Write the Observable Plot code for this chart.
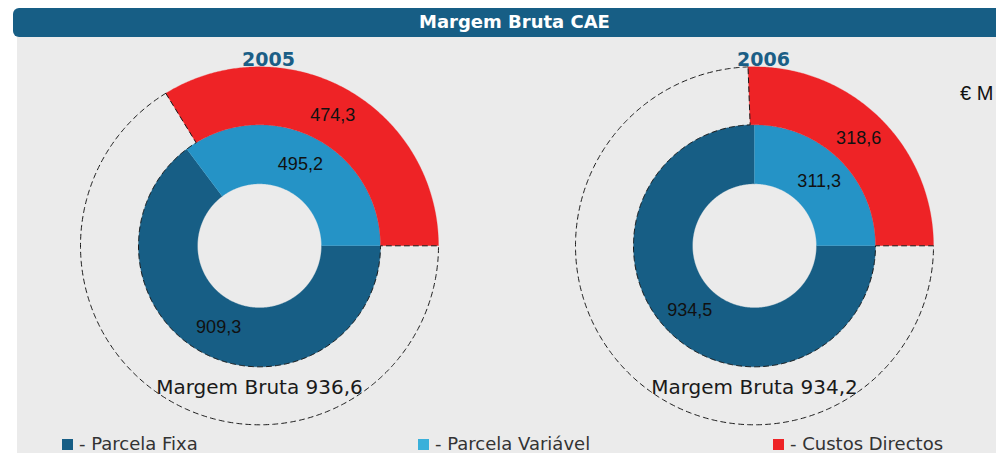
<!DOCTYPE html>
<html>
<head>
<meta charset="utf-8">
<script src="https://cdn.jsdelivr.net/npm/d3@7"></script>
<script src="https://cdn.jsdelivr.net/npm/@observablehq/plot@0.6"></script>
<style>
  html, body { margin: 0; padding: 0; background: #ffffff; }
  body { width: 996px; height: 453px; position: relative; overflow: hidden; font-family: "DejaVu Sans", sans-serif; }
  #banner { position: absolute; left: 13px; top: 8px; width: 990px; height: 29px; background: #175e85; border-radius: 6px 0 0 6px; }
  #banner span { position: absolute; left: 406px; top: 3px; color: #fff; font-weight: bold; font-size: 18px; }
  #panel { position: absolute; left: 17px; top: 37px; width: 979px; height: 416px; background: #ebebeb; }
  #chart { position: absolute; left: 0; top: 37px; }
  #unit { position: absolute; left: 960px; top: 82px; font-family: "Liberation Sans", Arial, sans-serif; font-size: 20px; color: #111; }
  .leg { position: absolute; top: 433px; font-size: 18px; color: #333; white-space: nowrap; }
  .leg i { display: inline-block; width: 11px; height: 11px; margin-right: 6px; vertical-align: 0px; }
</style>
</head>
<body>
<div id="banner"><span>Margem Bruta CAE</span></div>
<div id="panel"></div>
<div id="chart"></div>
<div id="unit">€ M</div>
<div id="legend"></div>
<script>
// ---- data ----
const years = ["2005", "2006"];
const parcelaFixa = [909.3, 934.5];
const parcelaVariavel = [495.2, 311.3];
const custosDirectos = [474.3, 318.6];
const margemBruta = [936.6, 934.2];
const seriesNames = ["Parcela Fixa", "Parcela Variável", "Custos Directos"];
const seriesColors = ["#175e85", "#2593c6", "#ee2326"];
const legendColors = ["#175e85", "#3ab0da", "#ee2326"];

// ---- layout ----
const W = 996, H = 390;
const centersX = [259, 754];
const centerY = 208.3;
const rHole = 62, rInner = 121, rOuter = 179;

const fmt = v => v.toFixed(1).replace(".", ",");

function sector(id, a0, a1, r0, r1, close) {
  const pts = [];
  const n = Math.max(2, Math.ceil(Math.abs(a1 - a0) / 0.5));
  const [cx, cy] = id;
  for (let i = 0; i <= n; i++) {
    const a = (a0 + (a1 - a0) * i / n) * Math.PI / 180;
    pts.push({x: cx + r1 * Math.cos(a), y: cy - r1 * Math.sin(a)});
  }
  for (let i = 0; i <= n; i++) {
    const a = (a1 - (a1 - a0) * i / n) * Math.PI / 180;
    pts.push({x: cx + r0 * Math.cos(a), y: cy - r0 * Math.sin(a)});
  }
  if (close) pts.push({...pts[0]});
  return pts;
}

const fixaPts = [], varPts = [], custoPts = [], dashPts = [], labels = [], titles = [];
years.forEach((yr, i) => {
  const cx = centersX[i], cy = centerY;
  const total = parcelaFixa[i] + parcelaVariavel[i];
  const aV = parcelaVariavel[i] / total * 360;
  const aC = custosDirectos[i] / total * 360;
  sector([cx, cy], 0, aV, rHole, rInner).forEach(p => varPts.push({...p, k: yr}));
  sector([cx, cy], aV, 360, rHole, rInner).forEach(p => fixaPts.push({...p, k: yr}));
  sector([cx, cy], 0, aC, rInner, rOuter).forEach(p => custoPts.push({...p, k: yr}));
  sector([cx, cy], aC, 360, rInner, rOuter, true).forEach(p => dashPts.push({...p, k: yr}));
  const lab = (v, a0, a1, r0, r1) => {
    const a = (a0 + a1) / 2 * Math.PI / 180, r = (r0 + r1) / 2;
    labels.push({x: cx + r * Math.cos(a), y: cy - r * Math.sin(a), t: fmt(v)});
  };
  lab(custosDirectos[i], 0, aC, rInner, rOuter);
  lab(parcelaVariavel[i], 0, aV, rHole, rInner);
  lab(parcelaFixa[i], aV, 360, rHole, rInner);
  titles.push({x: cx + 9, y: 22, t: yr, mx: cx, my: cy + 142, m: "Margem Bruta " + fmt(margemBruta[i])});
});

const chart = Plot.plot({
  width: W, height: H, margin: 0,
  x: {domain: [0, W], range: [0, W], axis: null},
  y: {domain: [0, H], range: [0, H], axis: null},
  style: {background: "transparent", overflow: "visible"},
  marks: [
    Plot.line(fixaPts, {x: "x", y: "y", z: "k", fill: seriesColors[0], stroke: seriesColors[0], strokeWidth: 0.3, curve: "linear"}),
    Plot.line(varPts, {x: "x", y: "y", z: "k", fill: seriesColors[1], stroke: seriesColors[1], strokeWidth: 0.3, curve: "linear"}),
    Plot.line(custoPts, {x: "x", y: "y", z: "k", fill: seriesColors[2], stroke: seriesColors[2], strokeWidth: 0.3, curve: "linear"}),
    Plot.line(dashPts, {x: "x", y: "y", z: "k", stroke: "#1a1a1a", strokeWidth: 1, strokeDasharray: "5,4", curve: "linear"}),
    Plot.text(labels, {x: "x", y: "y", text: "t", fontSize: 18, fontFamily: "Liberation Sans, Arial, sans-serif", fill: "#111"}),
    Plot.text(titles, {x: "x", y: "y", text: "t", fontSize: 19, fontWeight: "bold", fontFamily: "DejaVu Sans, sans-serif", fill: "#1b5e86"}),
    Plot.text(titles, {x: "mx", y: "my", text: "m", fontSize: 20, fontFamily: "DejaVu Sans, sans-serif", fill: "#1a1a1a"})
  ]
});
document.getElementById("chart").appendChild(chart);

// legend
const legX = [62, 418, 773];
const leg = document.getElementById("legend");
seriesNames.forEach((n, i) => {
  const d = document.createElement("div");
  d.className = "leg";
  d.style.left = legX[i] + "px";
  d.innerHTML = `<i style="background:${legendColors[i]}"></i>- ${n}`;
  leg.appendChild(d);
});
</script>
</body>
</html>
